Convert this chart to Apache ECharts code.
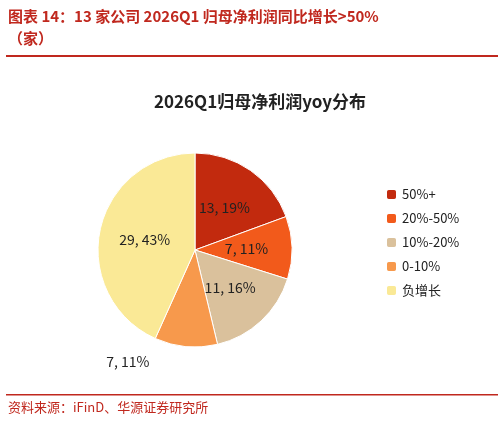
<!DOCTYPE html>
<html><head><meta charset="utf-8">
<script src="https://cdn.jsdelivr.net/npm/echarts@6/dist/echarts.min.js"></script>
<style>body{margin:0;background:#fff}#c{width:504px;height:428px}</style>
</head><body><div id="c"></div>
<script>
const categories=['50%+','20%-50%','10%-20%','0-10%','负增长'];
const counts=[13,7,11,7,29];
const pctLabels=['19%','11%','16%','11%','43%'];
const colors=['#C22A0E','#F25A1B','#DAC19C','#F7994C','#FAE996'];
const chart=echarts.init(document.getElementById('c'));
chart.setOption({
  animation:false,
  graphic:[
    {type:'text',left:8,top:5,style:{text:'图表 14：13 家公司 2026Q1 归母净利润同比增长>50%\n（家）',fill:'#C0281E',font:'bold 15px "Noto Sans CJK SC"',lineHeight:22}},
    {type:'rect',shape:{x:6,y:55,width:492,height:2},style:{fill:'#C0281E'}},
    {type:'rect',shape:{x:6,y:394,width:492,height:1.5},style:{fill:'#C0281E'}},
    {type:'text',left:8,top:401,style:{text:'资料来源：iFinD、华源证券研究所',fill:'#C0281E',font:'13px "Noto Sans CJK SC"'}}
  ],
  title:{text:'2026Q1归母净利润yoy分布',left:255,top:88,textAlign:'center',textStyle:{fontSize:17,fontWeight:'bold',color:'#222',fontFamily:'Noto Sans CJK SC'}},
  legend:{orient:'vertical',left:380,top:183,itemWidth:11,itemHeight:11,itemGap:11,textStyle:{fontSize:13,color:'#222',fontFamily:'Noto Sans CJK SC'},data:categories},
  series:[{type:'pie',center:[195,250],radius:[0,97],startAngle:90,clockwise:true,
    label:{position:'inside',fontSize:14,color:'#222',fontFamily:'Noto Sans CJK SC',
      formatter:p=>p.value+', '+pctLabels[p.dataIndex]},
    labelLine:{show:false},
    data:categories.map((c,i)=>({name:c,value:counts[i],itemStyle:{color:colors[i],borderColor:'#fff',borderWidth:1},
      label:i===3?{position:'outside',distance:6}:{}}))
  }]
});
</script></body></html>
